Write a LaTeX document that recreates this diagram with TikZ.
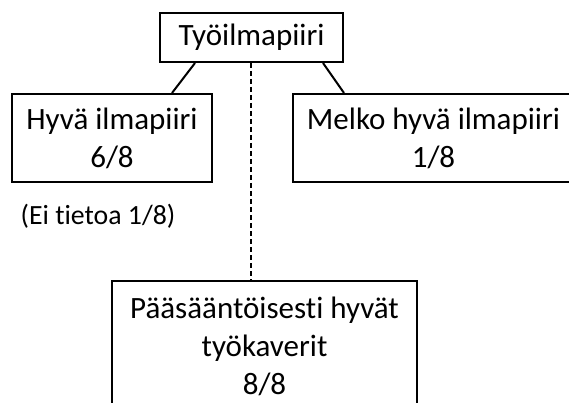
\documentclass[tikz,border=0pt]{standalone}
\usepackage{fontspec}
\setmainfont{Carlito}[Ligatures=NoCommon]
\usetikzlibrary{positioning}

\begin{document}
\begin{tikzpicture}[
  x=1pt, y=-1pt,
  every node/.style={align=center, inner sep=0pt},
  box/.style ={rectangle, draw=black, line width=2pt, font=\fontsize{31}{38}\selectfont},
  note/.style={font=\fontsize{27.8}{33}\selectfont},
  link/.style={draw=black, line width=2pt},
  gap/.style ={link, dash pattern=on 5pt off 3pt}
]
% Frame: 569 x 403, y runs downward (pixel grid)
\useasboundingbox (0,0) rectangle (569,403);
\clip (0,0) rectangle (569,403);

% Row 1: root
\node[box, minimum width=183, minimum height=49] (ilma) at (251.5,37.5) {Työilmapiiri};

% Row 2: two answers, right box runs past the frame
\node[box, minimum width=200, minimum height=88] (hyva)  at (112,138)   {Hyvä ilmapiiri\\6/8};
\node[box, minimum width=281, minimum height=88] (melko) at (433.5,138) {Melko hyvä ilmapiiri\\1/8};
\node[note] (eitietoa) at (98,216) {(Ei tietoa 1/8)};

% Row 3: bottom box, cut by the frame
\node[box, anchor=north, minimum width=305, inner ysep=16pt] (tyokaverit) at (264.5,280)
  {Pääsääntöisesti hyvät\\työkaverit\\8/8};

% Edges
\draw[link] ([xshift=-56.5pt]ilma.south) -- ([xshift=60pt]hyva.north);
\draw[link] ([xshift=71.5pt]ilma.south)  -- ([xshift=-89.5pt]melko.north);
\draw[gap]  ([xshift=-0.5pt]ilma.south)  -- ([xshift=-0.5pt]ilma.south |- tyokaverit.north);
\end{tikzpicture}
\end{document}
